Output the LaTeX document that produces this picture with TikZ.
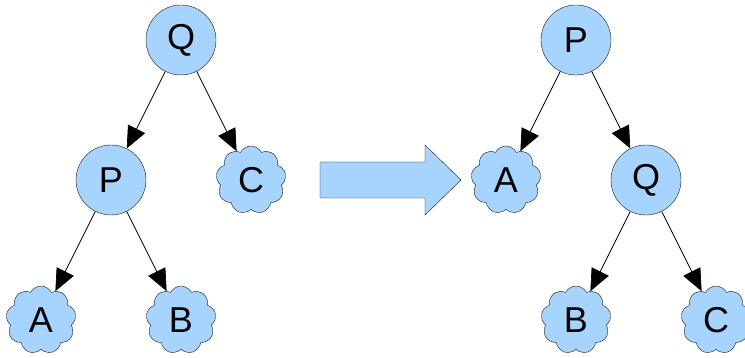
\documentclass[tikz,border=0pt]{standalone}
\usepackage{fontspec}
\setmainfont{Liberation Sans}
\usetikzlibrary{positioning,shapes.symbols,arrows.meta}
\definecolor{nodeblue}{HTML}{A6D4FF}
\begin{document}
\begin{tikzpicture}[x=1pt, y=1pt, node distance={140pt and 70pt}, on grid,
    main/.style = {draw=black!90, fill=nodeblue, circle, minimum size=70pt, inner sep=0pt, font=\fontsize{36}{40}\selectfont},
    leaf/.style = {draw=black!90, fill=nodeblue, cloud, cloud puffs=9, cloud puff arc=125, aspect=1, minimum width=70pt, minimum height=68pt, inner sep=0pt, font=\fontsize{36}{40}\selectfont},
    edge/.style = {draw, line width=0.7pt, -{Triangle[length=22pt, width=19pt]}}]
    \useasboundingbox (0,0) rectangle (745,358);
    % left tree
    \node[main] (1) at (181,318) {Q};
    \node[main] (2) [below left=of 1] {P};
    \node[leaf] (3) [below right=of 1] {C};
    \node[leaf] (4) [below left=of 2] {A};
    \node[leaf] (5) [below right=of 2] {B};
    \draw[edge] (1) -- (2);
    \draw[edge] (1) -- (3);
    \draw[edge] (2) -- (4);
    \draw[edge] (2) -- (5);
    % block arrow
    \draw[draw=black!90, fill=nodeblue] (320,160) -- (425,160) -- (425,143) -- (461,178) -- (425,213) -- (425,196) -- (320,196) -- cycle;
    % right tree
    \node[main] (6) at (576,318) {P};
    \node[leaf] (7) [below left=of 6] {A};
    \node[main] (8) [below right=of 6] {Q};
    \node[leaf] (9) [below left=of 8] {B};
    \node[leaf] (10) [below right=of 8] {C};
    \draw[edge] (6) -- (7);
    \draw[edge] (6) -- (8);
    \draw[edge] (8) -- (9);
    \draw[edge] (8) -- (10);
\end{tikzpicture}
\end{document}
